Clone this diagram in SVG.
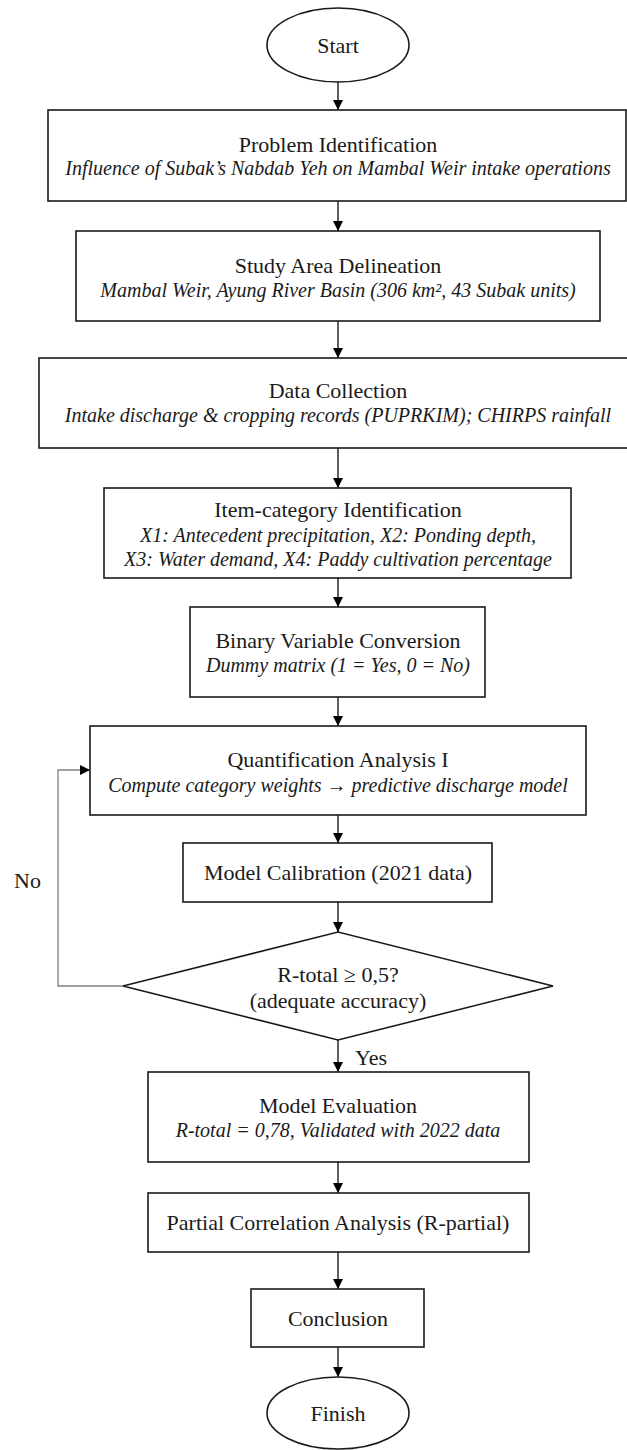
<svg xmlns="http://www.w3.org/2000/svg" width="627" height="1450" viewBox="0 0 627 1450">
<style>
.box{fill:#fff;stroke:#1a1a1a;stroke-width:1.6}
.t{font-family:"Liberation Serif","Times New Roman",serif;font-size:22px;fill:#1a1a1a;text-anchor:middle}
.i{font-family:"Liberation Serif","Times New Roman",serif;font-size:20px;font-style:italic;fill:#1a1a1a;text-anchor:middle}
.lbl{font-family:"Liberation Serif","Times New Roman",serif;font-size:22px;fill:#1a1a1a}
.c{fill:none;stroke:#1a1a1a;stroke-width:1.4}
.loop{fill:none;stroke:#808080;stroke-width:1.3}
</style>
<defs>
<marker id="ah" markerUnits="userSpaceOnUse" markerWidth="10" markerHeight="10" refX="10" refY="5" orient="auto">
<path d="M0,0 L10,5 L0,10 z" fill="#000"/>
</marker>
</defs>
<rect width="627" height="1450" fill="#fff"/>
<g id="connectors">
<line class="c" x1="338" y1="82" x2="338" y2="110" marker-end="url(#ah)"/>
<line class="c" x1="338" y1="201" x2="338" y2="231" marker-end="url(#ah)"/>
<line class="c" x1="338" y1="321" x2="338" y2="358" marker-end="url(#ah)"/>
<line class="c" x1="338" y1="448" x2="338" y2="488" marker-end="url(#ah)"/>
<line class="c" x1="338" y1="578" x2="338" y2="607" marker-end="url(#ah)"/>
<line class="c" x1="338" y1="697" x2="338" y2="726" marker-end="url(#ah)"/>
<line class="c" x1="338" y1="815" x2="338" y2="843" marker-end="url(#ah)"/>
<line class="c" x1="338" y1="902" x2="338" y2="932" marker-end="url(#ah)"/>
<line class="c" x1="338" y1="1040" x2="338" y2="1072" marker-end="url(#ah)"/>
<line class="c" x1="338" y1="1162" x2="338" y2="1193" marker-end="url(#ah)"/>
<line class="c" x1="338" y1="1252" x2="338" y2="1289" marker-end="url(#ah)"/>
<line class="c" x1="338" y1="1347" x2="338" y2="1377" marker-end="url(#ah)"/>
<path class="loop" d="M123,986 H58 V770 H90" marker-end="url(#ah)"/>
<text class="lbl" x="14" y="888">No</text>
<text class="lbl" x="355" y="1065">Yes</text>
</g>
<g id="start">
<ellipse class="box" cx="338" cy="45" rx="71" ry="37"/>
<text class="t" x="338" y="53">Start</text>
</g>
<g id="problem">
<rect class="box" x="48" y="110" width="578" height="91"/>
<text class="t" x="338" y="152">Problem Identification</text>
<text class="i" x="338" y="175">Influence of Subak’s Nabdab Yeh on Mambal Weir intake operations</text>
</g>
<g id="study">
<rect class="box" x="76" y="231" width="524" height="90"/>
<text class="t" x="338" y="273">Study Area Delineation</text>
<text class="i" x="338" y="297">Mambal Weir, Ayung River Basin (306 km², 43 Subak units)</text>
</g>
<g id="data">
<rect class="box" x="39" y="358" width="598" height="90"/>
<text class="t" x="338" y="398">Data Collection</text>
<text class="i" x="338" y="422">Intake discharge &amp; cropping records (PUPRKIM); CHIRPS rainfall</text>
</g>
<g id="item">
<rect class="box" x="104" y="488" width="467" height="90"/>
<text class="t" x="338" y="517">Item-category Identification</text>
<text class="i" x="338" y="542">X1: Antecedent precipitation, X2: Ponding depth,</text>
<text class="i" x="338" y="566">X3: Water demand, X4: Paddy cultivation percentage</text>
</g>
<g id="binary">
<rect class="box" x="190" y="607" width="295" height="90"/>
<text class="t" x="338" y="648">Binary Variable Conversion</text>
<text class="i" x="338" y="672">Dummy matrix (1 = Yes, 0 = No)</text>
</g>
<g id="quant">
<rect class="box" x="90" y="726" width="496" height="89"/>
<text class="t" x="338" y="767">Quantification Analysis I</text>
<text class="i" x="338" y="792">Compute category weights → predictive discharge model</text>
</g>
<g id="calib">
<rect class="box" x="183" y="843" width="309" height="59"/>
<text class="t" x="338" y="880">Model Calibration (2021 data)</text>
</g>
<g id="decision">
<polygon class="box" points="123,986 338,932 553,986 338,1040"/>
<text class="t" x="338" y="982">R-total ≥ 0,5?</text>
<text class="t" x="338" y="1008">(adequate accuracy)</text>
</g>
<g id="evaluation">
<rect class="box" x="148" y="1072" width="381" height="90"/>
<text class="t" x="338" y="1113">Model Evaluation</text>
<text class="i" x="338" y="1137">R-total = 0,78, Validated with 2022 data</text>
</g>
<g id="partial">
<rect class="box" x="148" y="1193" width="381" height="59"/>
<text class="t" x="338" y="1230">Partial Correlation Analysis (R-partial)</text>
</g>
<g id="conclusion">
<rect class="box" x="251" y="1289" width="173" height="58"/>
<text class="t" x="338" y="1326">Conclusion</text>
</g>
<g id="finish">
<ellipse class="box" cx="338" cy="1413" rx="71" ry="36"/>
<text class="t" x="338" y="1421">Finish</text>
</g>
</svg>
